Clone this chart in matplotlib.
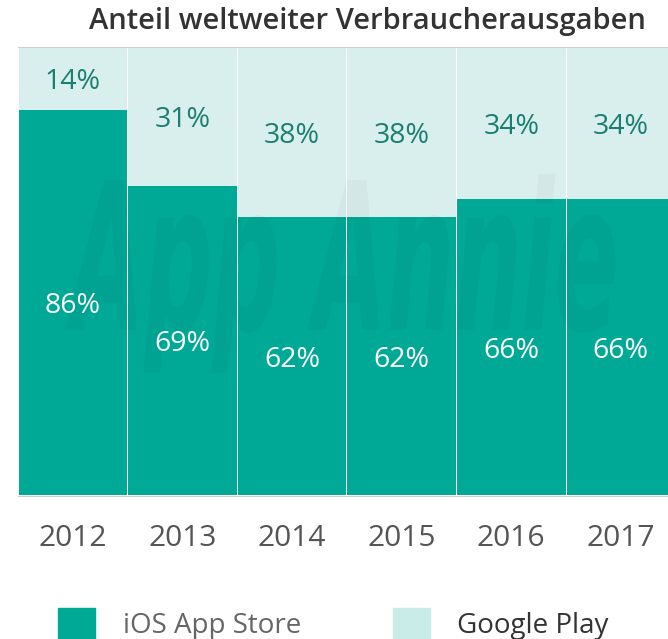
import matplotlib.pyplot as plt
from matplotlib.patches import Patch, PathPatch
from matplotlib.textpath import TextPath
from matplotlib.font_manager import FontProperties
from matplotlib.transforms import Affine2D

years = ['2012', '2013', '2014', '2015', '2016', '2017']
ios_share = [86, 69, 62, 62, 66, 66]
gplay_share = [14, 31, 38, 38, 34, 34]

teal = '#00A896'
light = '#D9EFEE'
label_dark = '#1B7F70'

plt.rcParams['font.family'] = ['Open Sans', 'DejaVu Sans']

W, H = 668, 639
fig = plt.figure(figsize=(W / 100, H / 100), dpi=100)
ax = fig.add_axes([0.027, 0.2254, 0.973, 0.701])

x = range(len(years))
ax.bar(x, ios_share, width=0.99, color=teal, linewidth=0)
ax.bar(x, gplay_share, width=0.99, bottom=ios_share, color=light, linewidth=0)

for i in x:
    ax.text(i, ios_share[i] / 2, f'{ios_share[i]}%', ha='center',
            va='center_baseline', color='white', fontsize=20.5, zorder=5)
    ax.text(i, ios_share[i] + gplay_share[i] / 2, f'{gplay_share[i]}%',
            ha='center', va='center_baseline', color=label_dark, fontsize=20.5,
            zorder=5)

# faint "App Annie" watermark, tall and narrow
tp = TextPath((0, 0), 'App Annie', size=1,
              prop=FontProperties(family='DejaVu Sans', style='italic', weight='bold'))
ext = tp.get_extents()
px_w, cap_h = 550, 150
sx = px_w / ext.width
sy = cap_h / 0.73
wm = Affine2D().translate(-ext.x0, 0).scale(sx, sy).translate(65, H - 330)
wm = wm + Affine2D().scale(1 / W, 1 / H) + fig.transFigure
fig.patches.append(PathPatch(tp, transform=wm, facecolor='black', edgecolor='none',
                             alpha=0.03, zorder=3))

ax.set_xlim(-0.5, 5.43)
ax.set_ylim(0, 100)
ax.set_xticks(list(x))
ax.set_xticklabels(years)
ax.tick_params(axis='x', length=0, pad=20, labelsize=21.5, labelcolor='#555555')
ax.set_yticks([])
for side in ['left', 'right']:
    ax.spines[side].set_visible(False)
ax.spines['top'].set_color('#d0d0d0')
ax.spines['bottom'].set_color('#d0d0d0')
ax.spines['bottom'].set_position(('outward', 1))

fig.text(0.967, 0.966, 'Anteil weltweiter Verbraucherausgaben', ha='right',
         va='center', fontsize=21, fontweight='semibold', color='#333333')

handles = [Patch(color=teal, label='iOS App Store'),
           Patch(color='#C9ECE8', label='Google Play')]
leg = fig.legend(handles=handles, loc='center left', bbox_to_anchor=(0.0868, 0.024),
                 ncol=2, frameon=False, fontsize=20, handlelength=1.33,
                 handleheight=1.33, handletextpad=1.0, columnspacing=3.3,
                 borderpad=0, borderaxespad=0)
for t, c in zip(leg.get_texts(), ['#666666', '#333333']):
    t.set_color(c)

fig.savefig('out.png', dpi=100)
